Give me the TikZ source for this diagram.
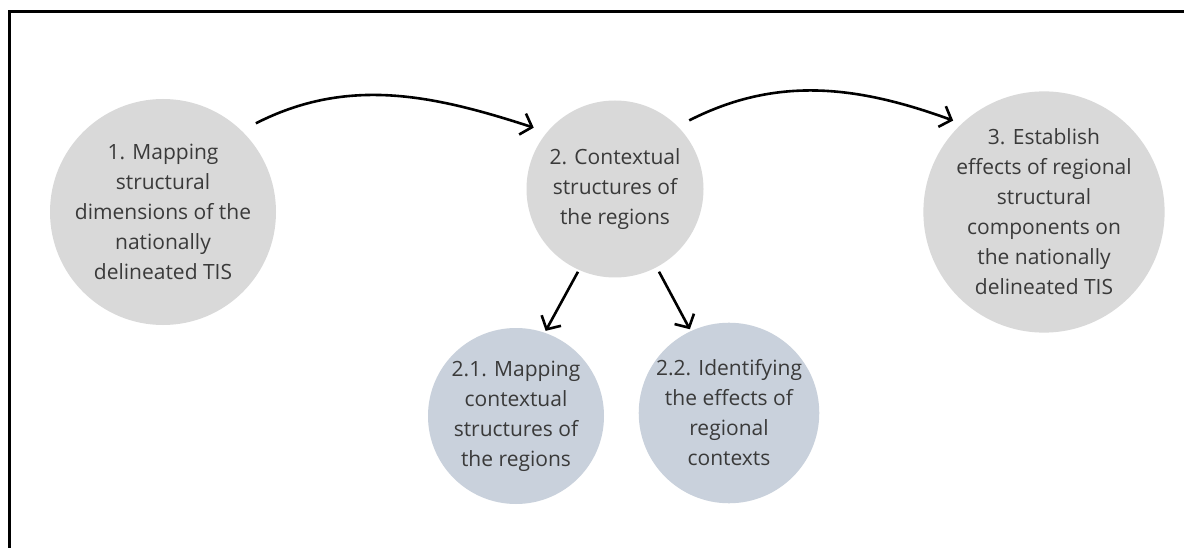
\documentclass[tikz,border=0pt]{standalone}
\usepackage{fontspec}
\setmainfont{Open Sans}
\usetikzlibrary{arrows.meta}
\definecolor{greyfill}{HTML}{D9D9D9}
\definecolor{bluefill}{HTML}{C9D1DC}
\definecolor{txt}{HTML}{3A3A3A}
\tikzset{
  bubble/.style={circle, fill=greyfill, inner sep=0pt, align=center, text=txt,
    font=\fontsize{21}{30}\selectfont},
  bigbubble/.style={bubble, minimum size=226pt},
  midbubble/.style={bubble, minimum size=177pt},
  subbubble/.style={bubble, fill=bluefill, minimum size=176pt},
  arr/.style={line width=2.6pt, -{Straight Barb[length=10pt,width=22pt,line width=2.6pt]}},
  frameline/.style={line width=3pt}
}
\begin{document}
\begin{tikzpicture}[x=1pt, y=-1pt]
\useasboundingbox (0,0) rectangle (1184,548);
\fill[white] (0,0) rectangle (1184,548);
\draw[frameline] (9,560) -- (9,12) -- (1190,12);

\node[bigbubble] (c1) at (163,212) {1. Mapping\\structural\\dimensions of the\\nationally\\delineated TIS};
\node[midbubble] (c2) at (615,189) {2. Contextual\\structures of\\the regions};
\node[bigbubble] (c3) at (1044,212) {3. Establish\\effects of regional\\structural\\components on\\the nationally\\delineated TIS};
\node[subbubble] (c21) at (516,416) {2.1. Mapping\\contextual\\structures of\\the regions};
\node[subbubble] (c22) at (729,413) {2.2. Identifying\\the effects of\\regional\\contexts};

\draw[arr, shorten <=16pt, shorten >=14pt] (c1.46) to[out=27, in=162] (c2.140);
\draw[arr, shorten <=13pt, shorten >=9pt] (c2.45) to[out=27, in=160] (c3.133);
\draw[arr, shorten <=2pt, shorten >=2pt] (c2.246) -- (c21.71);
\draw[arr, shorten <=5pt, shorten >=2pt] (c2.298) -- (c22.115);
\end{tikzpicture}
\end{document}
